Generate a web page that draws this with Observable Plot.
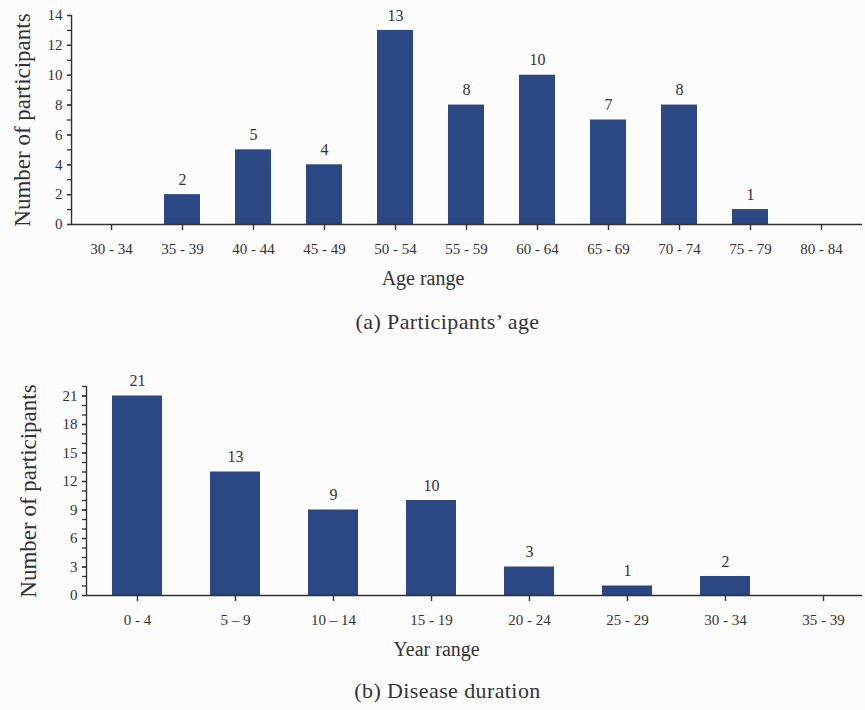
<!DOCTYPE html>
<html>
<head>
<meta charset="utf-8">
<script src="https://cdn.jsdelivr.net/npm/d3@7"></script>
<script src="https://cdn.jsdelivr.net/npm/@observablehq/plot@0.6"></script>
<style>
  html, body { margin: 0; padding: 0; background: #fcfcfc; }
  #page { position: relative; width: 865px; height: 710px; }
  .chart { position: absolute; left: 0; }
  .chart svg { background: transparent; overflow: visible; }
  .caption {
    position: absolute; width: 865px; left: 0; text-align: center;
    font-family: "Liberation Serif", "Times New Roman", serif; font-size: 22px;
    letter-spacing: 0.4px; color: #333; line-height: 24px;
    transform: translateX(15px);
  }
</style>
</head>
<body>
<div id="page">
  <div class="chart" id="age" style="top:0"></div>
  <div class="caption" style="top:310px">(a) Participants’ age</div>
  <div class="chart" id="duration" style="top:345px"></div>
  <div class="caption" style="top:679px">(b) Disease duration</div>
</div>
<script>
// Participants per age bracket
const ageRanges = ["30 - 34", "35 - 39", "40 - 44", "45 - 49", "50 - 54", "55 - 59", "60 - 64", "65 - 69", "70 - 74", "75 - 79", "80 - 84"];
const ageCounts = [0, 2, 5, 4, 13, 8, 10, 7, 8, 1, 0];

// Participants per years since diagnosis
const yearRanges = ["0 - 4", "5 – 9", "10 – 14", "15 - 19", "20 - 24", "25 - 29", "30 - 34", "35 - 39"];
const yearCounts = [21, 13, 9, 10, 3, 1, 2, 0];

const ageTicksMinor = d3.range(0, 15, 1);
const ageTicksMajor = d3.range(0, 15, 2);
const yearTicksMinor = d3.range(0, 23, 1);
const yearTicksMajor = d3.range(0, 22, 3);

const barColor = "#2b4784";
const ink = "#333";
const font = "'Liberation Serif', 'Times New Roman', serif";

function histogram({ranges, counts, minor, major, yMax, xLabel, width, height,
                     marginLeft, marginTop, marginBottom, xRange, padIn, padOut, labelDx, labelDy, yLabelDx}) {
  const data = ranges.map((r, i) => ({range: r, count: counts[i]}));
  const labelled = data.filter(d => d.count > 0);
  return Plot.plot({
    width, height, marginLeft, marginRight: 3, marginTop, marginBottom,
    style: {fontFamily: font, color: ink, background: "transparent"},
    x: {type: "band", domain: ranges, range: xRange, paddingInner: padIn, paddingOuter: padOut, label: null},
    y: {domain: [0, yMax], label: null},
    marks: [
      Plot.barY(data, {x: "range", y: "count", fill: barColor}),
      Plot.text(labelled, {x: "range", y: "count", text: d => String(d.count), dy: -15,
                           fontSize: 16, fill: ink, lineAnchor: "middle"}),
      Plot.frame({anchor: "left", stroke: ink, strokeWidth: 1.4}),
      Plot.ruleY([0], {stroke: ink, strokeWidth: 1.4}),
      Plot.axisY({ticks: minor, tickFormat: () => "", tickSize: 4, stroke: ink, strokeWidth: 1.3, label: null}),
      Plot.axisY({ticks: major, tickSize: 4, tickPadding: 5, fontSize: 15, fill: ink, stroke: ink, strokeWidth: 1.3, label: null}),
      Plot.axisX({tickSize: 6, tickPadding: 13, fontSize: 15, fill: ink, stroke: ink, strokeWidth: 1.4, label: null}),
      Plot.text([xLabel], {frameAnchor: "bottom", dx: labelDx, dy: labelDy, fontSize: 20, fill: ink, lineAnchor: "middle"}),
      Plot.text(["Number of participants"], {frameAnchor: "left", rotate: -90, dx: yLabelDx, fontSize: 23,
                                              fill: ink, lineAnchor: "middle", textAnchor: "middle"})
    ]
  });
}

document.getElementById("age").append(histogram({
  ranges: ageRanges, counts: ageCounts, minor: ageTicksMinor, major: ageTicksMajor, yMax: 14,
  xLabel: "Age range", width: 865, height: 300, marginLeft: 71, marginTop: 15, marginBottom: 76,
  xRange: [71, 862], padIn: 0.49, padOut: 0.29, labelDx: -44, labelDy: 54, yLabelDx: -49
}));

document.getElementById("duration").append(histogram({
  ranges: yearRanges, counts: yearCounts, minor: yearTicksMinor, major: yearTicksMajor, yMax: 22,
  xLabel: "Year range", width: 865, height: 315, marginLeft: 86, marginTop: 41, marginBottom: 65,
  xRange: [86, 874], padIn: 0.49, padOut: 0.265, labelDx: -38, labelDy: 54, yLabelDx: -58
}));
</script>
</body>
</html>
